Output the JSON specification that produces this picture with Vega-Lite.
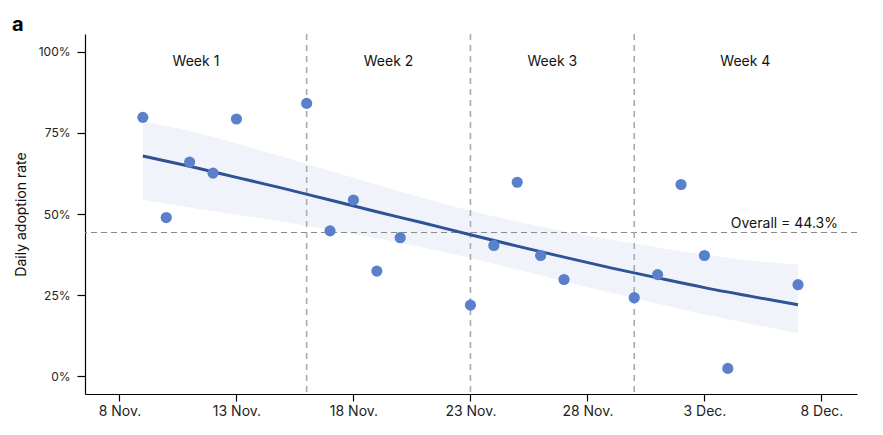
{
  "$schema": "https://vega.github.io/schema/vega-lite/v6.json",
  "autosize": "none",
  "padding": {"left": 85, "top": 34, "right": 26, "bottom": 41},
  "width": 772,
  "height": 360,
  "title": {"text": "a", "anchor": "start", "frame": "group", "dx": -73, "dy": 22, "offset": 4, "baseline": "alphabetic", "fontSize": 20, "fontWeight": "bold", "font": "Inter", "color": "#000"},
  "config": {
    "view": {"stroke": null},
    "font": "Inter",
    "axis": {"grid": false, "domainColor": "#000", "tickColor": "#000", "labelColor": "#222", "titleColor": "#111", "labelFont": "Inter", "titleFont": "Inter", "titleFontWeight": "normal"}
  },
  "datasets": {
    "pts": [
      {"date": "2022-11-09T00:00:00", "rate": 0.798},
      {"date": "2022-11-10T00:00:00", "rate": 0.489},
      {"date": "2022-11-11T00:00:00", "rate": 0.660},
      {"date": "2022-11-12T00:00:00", "rate": 0.626},
      {"date": "2022-11-13T00:00:00", "rate": 0.793},
      {"date": "2022-11-16T00:00:00", "rate": 0.841},
      {"date": "2022-11-17T00:00:00", "rate": 0.448},
      {"date": "2022-11-18T00:00:00", "rate": 0.543},
      {"date": "2022-11-19T00:00:00", "rate": 0.324},
      {"date": "2022-11-20T00:00:00", "rate": 0.427},
      {"date": "2022-11-23T00:00:00", "rate": 0.219},
      {"date": "2022-11-24T00:00:00", "rate": 0.403},
      {"date": "2022-11-25T00:00:00", "rate": 0.598},
      {"date": "2022-11-26T00:00:00", "rate": 0.372},
      {"date": "2022-11-27T00:00:00", "rate": 0.298},
      {"date": "2022-11-30T00:00:00", "rate": 0.242},
      {"date": "2022-12-01T00:00:00", "rate": 0.313},
      {"date": "2022-12-02T00:00:00", "rate": 0.591},
      {"date": "2022-12-03T00:00:00", "rate": 0.372},
      {"date": "2022-12-04T00:00:00", "rate": 0.024},
      {"date": "2022-12-07T00:00:00", "rate": 0.282}
    ],
    "fit": [
      {"date": "2022-11-09T00:00:00", "fit": 0.679, "lo": 0.545, "hi": 0.785},
      {"date": "2022-11-11T00:00:00", "fit": 0.647, "lo": 0.520, "hi": 0.756},
      {"date": "2022-11-13T00:00:00", "fit": 0.613, "lo": 0.498, "hi": 0.717},
      {"date": "2022-11-15T00:00:00", "fit": 0.579, "lo": 0.476, "hi": 0.676},
      {"date": "2022-11-17T00:00:00", "fit": 0.543, "lo": 0.451, "hi": 0.633},
      {"date": "2022-11-19T00:00:00", "fit": 0.507, "lo": 0.425, "hi": 0.590},
      {"date": "2022-11-21T00:00:00", "fit": 0.472, "lo": 0.396, "hi": 0.549},
      {"date": "2022-11-23T00:00:00", "fit": 0.436, "lo": 0.364, "hi": 0.510},
      {"date": "2022-11-25T00:00:00", "fit": 0.401, "lo": 0.329, "hi": 0.477},
      {"date": "2022-11-27T00:00:00", "fit": 0.367, "lo": 0.293, "hi": 0.447},
      {"date": "2022-11-29T00:00:00", "fit": 0.334, "lo": 0.257, "hi": 0.421},
      {"date": "2022-12-01T00:00:00", "fit": 0.303, "lo": 0.223, "hi": 0.397},
      {"date": "2022-12-03T00:00:00", "fit": 0.273, "lo": 0.190, "hi": 0.375},
      {"date": "2022-12-05T00:00:00", "fit": 0.246, "lo": 0.161, "hi": 0.356},
      {"date": "2022-12-07T00:00:00", "fit": 0.220, "lo": 0.132, "hi": 0.344}
    ],
    "bounds": [
      {"date": "2022-11-16T00:00:00"},
      {"date": "2022-11-23T00:00:00"},
      {"date": "2022-11-30T00:00:00"}
    ],
    "weeks": [
      {"date": "2022-11-11T06:30:00", "label": "Week 1"},
      {"date": "2022-11-19T12:00:00", "label": "Week 2"},
      {"date": "2022-11-26T12:00:00", "label": "Week 3"},
      {"date": "2022-12-04T18:00:00", "label": "Week 4"}
    ],
    "overall": [
      {"rate": 0.443, "date": "2022-12-08T17:00:00", "label": "Overall = 44.3%"}
    ]
  },
  "encoding": {
    "x": {
      "field": "date", "type": "temporal", "title": null,
      "scale": {"domain": [
        {"year": 2022, "month": 11, "date": 6, "hours": 12, "minutes": 40},
        {"year": 2022, "month": 12, "date": 9, "hours": 12, "minutes": 30}
      ]},
      "axis": {
        "values": [
          {"year": 2022, "month": 11, "date": 8},
          {"year": 2022, "month": 11, "date": 13},
          {"year": 2022, "month": 11, "date": 18},
          {"year": 2022, "month": 11, "date": 23},
          {"year": 2022, "month": 11, "date": 28},
          {"year": 2022, "month": 12, "date": 3},
          {"year": 2022, "month": 12, "date": 8}
        ],
        "format": "%-d %b.", "labelFontSize": 14, "tickSize": 7, "labelPadding": 3, "domainWidth": 1.2, "tickWidth": 1.2
      }
    }
  },
  "layer": [
    {
      "data": {"name": "fit"},
      "mark": {"type": "area", "color": "#f0f4fa", "opacity": 1, "interpolate": "monotone"},
      "encoding": {
        "y": {"field": "lo", "type": "quantitative", "scale": {"domain": [-0.055, 1.055], "nice": false, "zero": false},
          "title": "Daily adoption rate",
          "axis": {"values": [0, 0.25, 0.5, 0.75, 1], "format": ".0%", "labelFontSize": 12, "tickSize": 8, "labelPadding": 7, "titleFontSize": 14, "titleX": -60, "titleBaseline": "alphabetic", "domainWidth": 1.2, "tickWidth": 1.2}},
        "y2": {"field": "hi"}
      }
    },
    {
      "data": {"name": "overall"},
      "mark": {"type": "rule", "color": "#888", "strokeDash": [6, 4], "strokeWidth": 1},
      "encoding": {"y": {"field": "rate", "type": "quantitative"}, "x": null}
    },
    {
      "data": {"name": "bounds"},
      "mark": {"type": "rule", "color": "#aaa", "strokeDash": [6, 5], "strokeWidth": 1.6},
      "encoding": {}
    },
    {
      "data": {"name": "fit"},
      "mark": {"type": "line", "color": "#2d5296", "strokeWidth": 3, "interpolate": "monotone"},
      "encoding": {"y": {"field": "fit", "type": "quantitative"}}
    },
    {
      "data": {"name": "pts"},
      "mark": {"type": "circle", "color": "#5b80cb", "opacity": 1, "size": 125},
      "encoding": {"y": {"field": "rate", "type": "quantitative"}}
    },
    {
      "data": {"name": "weeks"},
      "mark": {"type": "text", "fontSize": 14, "color": "#111", "baseline": "alphabetic", "align": "center"},
      "encoding": {"y": {"datum": 0.957, "type": "quantitative"}, "text": {"field": "label"}}
    },
    {
      "data": {"name": "overall"},
      "mark": {"type": "text", "fontSize": 14, "color": "#111", "baseline": "alphabetic", "align": "right", "dy": -4},
      "encoding": {"y": {"field": "rate", "type": "quantitative"}, "text": {"field": "label"}}
    }
  ]
}
